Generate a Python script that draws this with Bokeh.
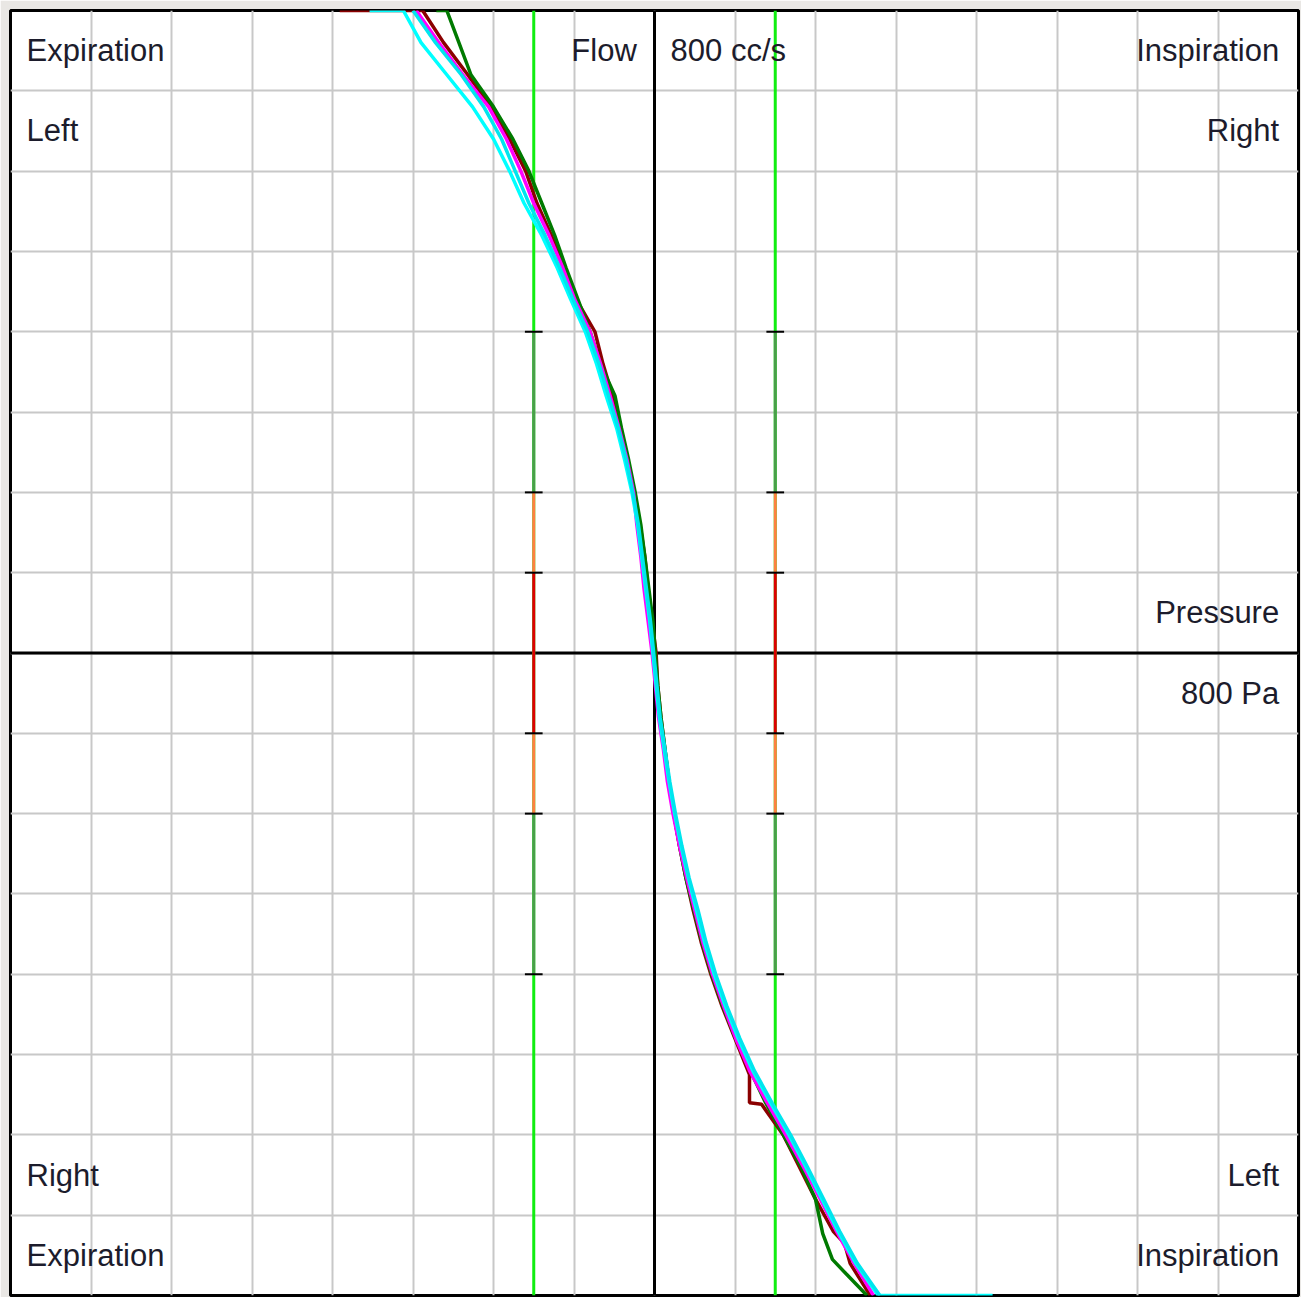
from bokeh.plotting import figure
from bokeh.models import FixedTicker, Span, Label, Range1d
from bokeh.embed import file_html
from bokeh.resources import INLINE

# ---- data: pressure (Pa) on x, flow (cc/s) on y ----
grid_ticks = [-700, -600, -500, -400, -300, -200, -100, 0, 100, 200, 300, 400, 500, 600, 700]
ref_pressure = [-150, 150]
band_top = [400, 200, 100, -100, -200]
band_bottom = [200, 100, -100, -200, -400]
band_colors = ["#4a9e4a", "#ff8040", "#dd0000", "#ff8040", "#4a9e4a"]
tick_flows = [400, 200, 100, -100, -200, -400]

flow_levels = [800, 760, 720, 680, 640, 600, 560, 520, 480, 440, 400, 360, 320, 280, 240, 200,
               160, 120, 80, 40, 0, -40, -80, -120, -160, -200, -240, -280, -320, -360, -400,
               -440, -480, -520, -560, -600, -640, -680, -720, -760, -800]

darkred_flow = [800, 800, 800, 760, 720, 680, 640, 600, 560, 520, 480, 440, 400, 360, 320, 280, 240,
                200, 160, 120, 80, 40, 0, -40, -80, -120, -160, -200, -240, -280, -320, -360, -400,
                -440, -480, -525, -560, -562, -600, -640, -680, -720, -735, -760, -800]
darkred_press = [-391, -354, -288, -262, -232, -203, -180, -160, -146, -128, -112, -97, -74, -64, -52,
                 -42, -33, -25, -18, -12, -8, -3, 2, 4, 8, 13, 18, 24, 31, 39, 48, 58, 70, 84, 100,
                 118, 118, 133, 160, 180, 200, 222, 236, 243, 268]

green_flow = [800, 800, 768, 720, 680, 640, 600, 560, 520, 480, 440, 400, 360, 320, 280, 240, 200,
              160, 120, 80, 40, 0, -40, -80, -120, -160, -200, -240, -280, -320, -360, -400, -440,
              -480, -520, -560, -600, -640, -680, -723, -755, -773, -800]
green_press = [-271, -258, -246, -228, -200, -176, -156, -140, -124, -110, -95, -80, -67, -49, -41,
               -32, -24, -17, -12, -7, -2, 1, 4, 8, 13, 18, 24, 31, 39, 49, 59, 71, 85, 101, 119,
               138, 160, 182, 200, 209, 221, 238, 264]

magenta_press = [-296, -268, -238, -206, -184, -166, -150, -131, -114, -99, -80, -67, -55, -44, -34,
                 -26, -22, -17, -13, -8, -3, 1, 5, 11, 16, 23, 31, 40, 50, 60, 72, 86, 101, 118,
                 140, 163, 185, 206, 226, 248, 272]

cyan_a_flow = [800] + flow_levels + [-800]
cyan_a_press = [-354, -312, -290, -258, -226, -200, -180, -162, -140, -121, -104, -86, -72, -60, -47,
                -37, -28, -21, -16, -11, -6, -2, 2, 6, 12, 18, 25, 33, 42, 52, 62, 74, 88, 104, 122,
                144, 167, 188, 208, 228, 250, 278, 420]

cyan_b_press = [-300, -272, -240, -212, -190, -173, -156, -136, -118, -101, -83, -69, -57, -45, -35,
                -27, -20, -15, -10, -5, -1, 3, 7, 13, 19, 26, 34, 43, 54, 64, 76, 90, 106, 124, 146,
                169, 190, 210, 230, 252, 280]

labels = [
    ("Expiration", -780, 750, "left"), ("Left", -780, 650, "left"),
    ("Flow", -22, 750, "right"), ("800 cc/s", 20, 750, "left"),
    ("Inspiration", 776, 750, "right"), ("Right", 776, 650, "right"),
    ("Pressure", 776, 50, "right"), ("800 Pa", 776, -50, "right"),
    ("Right", -780, -650, "left"), ("Expiration", -780, -750, "left"),
    ("Left", 776, -650, "right"), ("Inspiration", 776, -750, "right"),
]

p = figure(width=1301, height=1297, output_backend="svg", toolbar_location=None,
           x_range=Range1d(-800, 800), y_range=Range1d(-800, 800),
           min_border_left=10, min_border_top=10, min_border_right=3, min_border_bottom=2)
p.xaxis.visible = False
p.yaxis.visible = False
p.xgrid.ticker = FixedTicker(ticks=grid_ticks)
p.ygrid.ticker = FixedTicker(ticks=grid_ticks)
for g in (p.xgrid, p.ygrid):
    g.grid_line_color = "#c8c8c8"
    g.grid_line_width = 2
    g.grid_line_alpha = 1.0
p.background_fill_color = "white"
p.border_fill_color = "#e9e7e4"
p.outline_line_color = "black"
p.outline_line_width = 3

p.add_layout(Span(location=0, dimension="height", line_color="black", line_width=3, level="underlay"))
p.add_layout(Span(location=0, dimension="width", line_color="black", line_width=3, level="underlay"))

# reference lines at +-150 Pa
for xp in ref_pressure:
    p.segment(x0=[xp], y0=[-800], x1=[xp], y1=[800], line_color="#11ee11", line_width=3)
    p.segment(x0=[xp] * len(band_top), y0=band_top, x1=[xp] * len(band_top), y1=band_bottom,
              line_color=band_colors, line_width=3)
    p.segment(x0=[xp - 11] * len(tick_flows), y0=tick_flows, x1=[xp + 11] * len(tick_flows),
              y1=tick_flows, line_color="black", line_width=2)

p.line(darkred_press, darkred_flow, line_color="#8b0000", line_width=3.5)
p.line(green_press, green_flow, line_color="#007a00", line_width=3.5)
p.line(magenta_press, flow_levels, line_color="#ff00ff", line_width=3.5)
p.line(cyan_a_press, cyan_a_flow, line_color="#00ffff", line_width=3.5)
p.line(cyan_b_press, flow_levels, line_color="#00e5ee", line_width=3.5)

for txt, x, y, align in labels:
    p.add_layout(Label(x=x, y=y, text=txt, text_align=align, text_baseline="middle",
                       text_font="Liberation Sans", text_font_size="31px",
                       text_color="#1c1c2c"))

open("out.html", "w").write(file_html(p, INLINE))
